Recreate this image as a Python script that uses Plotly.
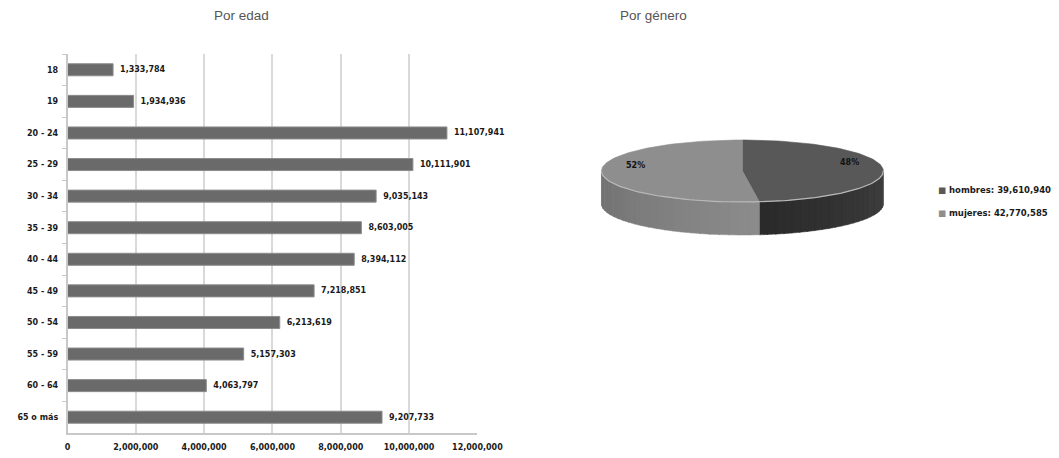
import numpy as np
import plotly.graph_objects as go

# ---- data ----
age_groups = ["18", "19", "20 - 24", "25 - 29", "30 - 34", "35 - 39", "40 - 44",
              "45 - 49", "50 - 54", "55 - 59", "60 - 64", "65 o más"]
age_counts = [1333784, 1934936, 11107941, 10111901, 9035143, 8603005, 8394112,
              7218851, 6213619, 5157303, 4063797, 9207733]
x_ticks = [0, 2000000, 4000000, 6000000, 8000000, 10000000, 12000000]

gender_names = ["hombres", "mujeres"]
gender_counts = [39610940, 42770585]

# ---- layout helpers ----
W, H = 1059, 458
X_STRETCH = 1 / 0.98  # horizontal placement factor for paper positions


def px(x):
    """horizontal pixel position -> paper fraction"""
    return x * X_STRETCH / W


def py(y):
    """vertical pixel position (from top) -> paper fraction"""
    return 1 - y / H


# ---- styles ----
FONT = "DejaVu Sans"
LABEL_FONT = dict(family=FONT, size=8, color="#1a1a1a", weight="bold")
top_colors = ["#585858", "#8e8e8e"]
side_from = [(0x40, 0x40, 0x40), (0x8c, 0x8c, 0x8c)]
side_to = [(0x2a, 0x2a, 0x2a), (0x70, 0x70, 0x70)]

fig = go.Figure()

# ---- bar chart: population by age ----
fig.add_trace(go.Bar(
    x=age_counts, y=age_groups, orientation="h",
    marker=dict(color="#6a6a6a", line=dict(color="#8c8c8c", width=1)),
    text=[f"\u2002{v:,}" for v in age_counts], textposition="outside",
    textfont=LABEL_FONT,
    cliponaxis=False, showlegend=False, hoverinfo="skip",
    xaxis="x", yaxis="y",
))

# ---- 3D-style pie: population by gender (drawn in pixel-like axes) ----
cx, cy, a, b, depth = 745.0, 171.0, 142.0, 31.0, 33.0
total = sum(gender_counts)
fracs = [v / total for v in gender_counts]
bounds = np.cumsum([0.0] + fracs) * 360.0  # clockwise from 12 o'clock


def rim(theta_deg):
    t = np.radians(theta_deg)
    return cx + a * np.sin(t), cy - b * np.cos(t)


# visible front side of each slice, split into thin strips for shading
for i in range(len(gender_counts)):
    lo, hi = max(bounds[i], 90.0), min(bounds[i + 1], 270.0)
    if hi <= lo:
        continue
    n_strips = 24
    edges = np.linspace(lo, hi, n_strips + 1)
    for k in range(n_strips):
        th = np.linspace(edges[k], min(edges[k + 1] + 0.3, hi), 6)
        xs, ys = rim(th)
        sx = np.concatenate([xs, xs[::-1], xs[:1]])
        sy = np.concatenate([ys, ys[::-1] + depth, ys[:1]])
        f = (k + 0.5) / n_strips
        c = tuple(int(side_from[i][j] + (side_to[i][j] - side_from[i][j]) * f) for j in range(3))
        col = "rgb(%d,%d,%d)" % c
        fig.add_trace(go.Scatter(
            x=sx, y=sy, mode="lines", fill="toself", fillcolor=col,
            line=dict(width=0.5, color=col), showlegend=False, hoverinfo="skip",
            xaxis="x2", yaxis="y2",
        ))

# top faces
for i in range(len(gender_counts)):
    th = np.linspace(bounds[i], bounds[i + 1], 120)
    xs, ys = rim(th)
    sx = np.concatenate([[cx], xs, [cx]])
    sy = np.concatenate([[cy], ys, [cy]])
    fig.add_trace(go.Scatter(
        x=sx, y=sy, mode="lines", fill="toself", fillcolor=top_colors[i],
        line=dict(width=0.6, color=top_colors[i]), showlegend=False, hoverinfo="skip",
        xaxis="x2", yaxis="y2",
    ))

# light rim highlight along the front edge
th = np.linspace(90, 270, 120)
xs, ys = rim(th)
fig.add_trace(go.Scatter(
    x=xs, y=ys, mode="lines", line=dict(width=1.2, color="#b8b8b8"),
    showlegend=False, hoverinfo="skip", xaxis="x2", yaxis="y2",
))

annotations = []
# percentage labels at the middle of each slice
for i in range(len(gender_counts)):
    mid = (bounds[i] + bounds[i + 1]) / 2.0
    t = np.radians(mid)
    lx = cx + 0.76 * a * np.sin(t)
    ly = cy - 0.75 * b * np.cos(t) - 7
    annotations.append(dict(
        x=lx, y=ly, xref="x2", yref="y2", text=f"{round(fracs[i] * 100)}%",
        xanchor="center", yanchor="middle",
        showarrow=False, font=dict(family=FONT, size=8, color="#111", weight="bold"),
    ))

# legend entries
for i, (name, val) in enumerate(zip(gender_names, gender_counts)):
    annotations.append(dict(
        x=px(940), y=py(190 + 23 * i), xref="paper", yref="paper",
        xanchor="left", yanchor="middle", showarrow=False,
        text=f"<span style='color:{top_colors[i]}'>■</span> {name}: {val:,}",
        font=dict(family=FONT, size=8.5, color="#1a1a1a", weight="bold"),
    ))

# chart titles
for label, xc in (("Por edad", 240), ("Por género", 655)):
    annotations.append(dict(
        x=px(xc), y=py(16), xref="paper", yref="paper",
        xanchor="center", yanchor="middle", text=label, showarrow=False,
        font=dict(family="Liberation Sans", size=13.5, color="#555"),
    ))

fig.update_layout(
    width=W, height=H, autosize=False,
    margin=dict(l=0, r=0, t=0, b=0),
    paper_bgcolor="white", plot_bgcolor="white",
    bargap=0.62, showlegend=False,
    annotations=annotations,
    xaxis=dict(
        domain=[px(65), px(478)], range=[0, 12000000],
        tickvals=x_ticks, ticktext=[f"{v:,}" for v in x_ticks],
        showgrid=True, gridcolor="#d9d9d9", gridwidth=1.5,
        showline=True, linecolor="#c8c8c8", linewidth=1.5,
        zeroline=False, ticks="", fixedrange=True, ticklabelstandoff=6,
        tickfont=LABEL_FONT,
    ),
    yaxis=dict(
        domain=[py(433), py(54)],
        autorange="reversed", type="category",
        showline=True, linecolor="#c8c8c8", linewidth=1.5,
        ticks="outside", tickson="boundaries", ticklen=4, tickcolor="#c8c8c8",
        showgrid=False, ticklabelstandoff=6,
        tickfont=LABEL_FONT,
    ),
    xaxis2=dict(domain=[px(560), px(920)], range=[560, 920], visible=False,
                anchor="y2"),
    yaxis2=dict(domain=[py(280), py(100)], range=[280, 100],
                visible=False, anchor="x2"),
)

fig.write_html("out.html", config={"responsive": False, "displayModeBar": False})
